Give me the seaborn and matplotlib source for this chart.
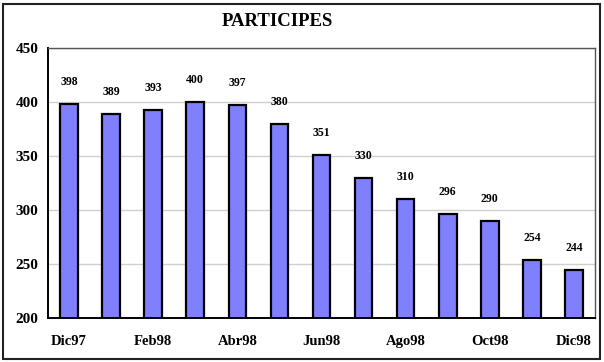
import matplotlib
matplotlib.use("Agg")
import matplotlib.pyplot as plt
import seaborn as sns
import pandas as pd
from matplotlib.patches import Rectangle

meses = ['Dic97', 'Ene98', 'Feb98', 'Mar98', 'Abr98', 'May98', 'Jun98',
         'Jul98', 'Ago98', 'Sep98', 'Oct98', 'Nov98', 'Dic98']
participes = [398, 389, 393, 400, 397, 380, 351, 330, 310, 296, 290, 254, 244]
titulo = 'PARTICIPES'
yTicks = [200, 250, 300, 350, 400, 450]

sns.set_style("white")
plt.rcParams['font.family'] = ['Liberation Serif', 'DejaVu Serif']
plt.rcParams['font.weight'] = 'bold'
plt.rcParams['text.color'] = 'black'
plt.rcParams['xtick.color'] = 'black'
plt.rcParams['ytick.color'] = 'black'

dados = pd.DataFrame({'mes': meses, 'valor': participes})

fig = plt.figure(figsize=(6.04, 3.62), dpi=100)
ax = fig.add_axes([48 / 604, 1 - 318 / 362, (595 - 48) / 604, (318 - 48) / 362])

sns.barplot(data=dados, x='mes', y='valor', color='#8080FF', saturation=1,
            edgecolor='black', linewidth=1.6, width=0.42, ax=ax)

ax.set_ylim(200, 450)
ax.set_xlim(-0.5, len(meses) - 0.5)
ax.set_yticks(yTicks)
ax.yaxis.grid(True, color='#d0d0d0', linewidth=1)
ax.set_axisbelow(True)
ax.set_xlabel('')
ax.set_ylabel('')

# rótulos das categorias a cada dois meses, marcas entre as barras
ax.set_xticks(range(0, len(meses), 2))
ax.set_xticklabels(meses[::2], fontsize=10.5, fontweight='bold')
ax.set_xticks([i - 0.5 for i in range(len(meses) + 1)], minor=True)
ax.tick_params(axis='x', which='major', length=0, pad=12)
ax.tick_params(axis='x', which='minor', length=4, width=1, color='black', direction='out')
ax.tick_params(axis='y', length=4, width=1, color='black', direction='out',
               labelsize=11, pad=3)
for lbl in ax.get_yticklabels():
    lbl.set_fontweight('bold')

for lado in ['left', 'bottom']:
    ax.spines[lado].set_color('black')
    ax.spines[lado].set_linewidth(1.4)
for lado in ['top', 'right']:
    ax.spines[lado].set_color('#555555')
    ax.spines[lado].set_linewidth(1.0)

# valores acima das barras
for i, v in enumerate(participes):
    ax.annotate(str(v), (i, v), xytext=(0, 22), textcoords='offset pixels',
                ha='center', va='center', fontsize=8.5, fontweight='bold')

fig.text(277 / 604, 1 - 22 / 362, titulo, ha='center', va='center',
         fontsize=13.5, fontweight='bold')

fig.patches.append(Rectangle((3 / 604, 3 / 362), 597 / 604, 355 / 362,
                             transform=fig.transFigure, fill=False,
                             edgecolor='#222222', linewidth=1.5))

fig.savefig('out.png', dpi=100)
